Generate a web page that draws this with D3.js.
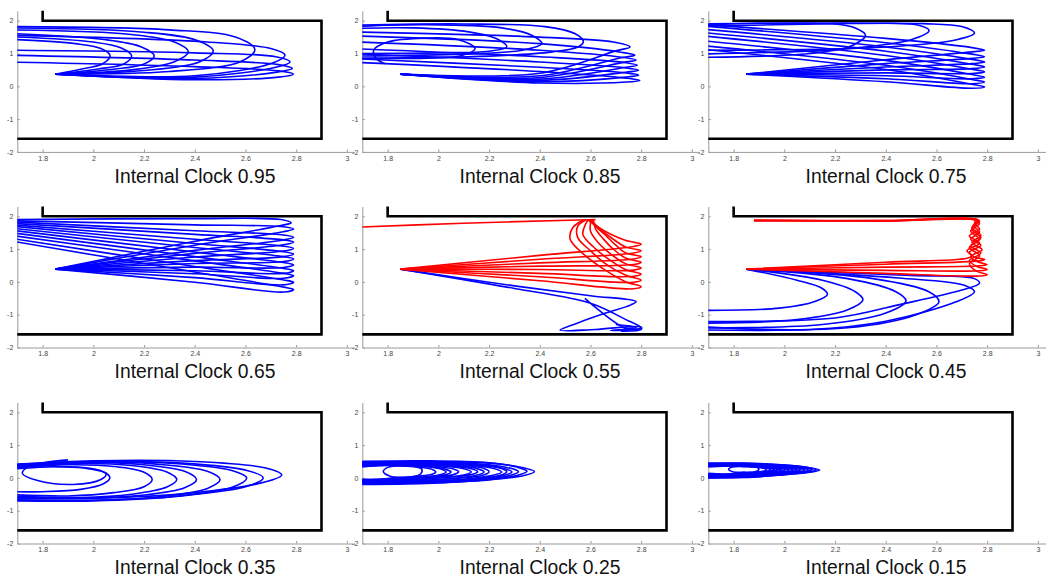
<!DOCTYPE html>
<html>
<head>
<meta charset="utf-8">
<script src="https://cdn.jsdelivr.net/npm/d3@7"></script>
<style>
  body { margin: 0; background: #fff; }
  svg { display: block; }
</style>
</head>
<body>
<svg id="chart" width="1057" height="581"></svg>
<script>

// titles of the nine panels
var clocks = ['0.95', '0.85', '0.75', '0.65', '0.55', '0.45', '0.35', '0.25', '0.15'];
var xTicks = [1.8, 2, 2.2, 2.4, 2.6, 2.8, 3];
var yTicks = [-2, -1, 0, 1, 2];

// the arena wall (same in every panel)
var wall = [[1.8, 2.3], [1.8, 2.0], [2.9, 2.0], [2.9, -1.6], [1.7, -1.6]];

// start points of the fans
var O1 = [1.85, 0.37];
var O2 = [1.85, 0.39];

// trajectories, panel by panel
var blue95 = [
    [O1, [1.97, 0.55], [2.035, 0.68], [2.066, 0.93], [2.03, 1.15], [1.93, 1.3], [1.65, 1.44]],
    [O1, [2.02, 0.53], [2.12, 0.68], [2.151, 0.93], [2.11, 1.17], [2.0, 1.35], [1.65, 1.52]],
    [O1, [2.08, 0.52], [2.2, 0.68], [2.24, 0.93], [2.19, 1.2], [2.05, 1.42], [1.65, 1.62]],
    [O1, [2.15, 0.5], [2.32, 0.75], [2.375, 1.05], [2.32, 1.35], [2.15, 1.58], [1.65, 1.72]],
    [O1, [2.2, 0.48], [2.42, 0.75], [2.473, 1.08], [2.41, 1.4], [2.2, 1.65], [1.65, 1.78]],
    [O1, [2.3, 0.45], [2.58, 0.75], [2.637, 1.12], [2.56, 1.5], [2.3, 1.72], [1.65, 1.82]],
    [O1, [2.4, 0.32], [2.71, 0.72], [2.756, 0.95], [2.7, 1.15], [2.45, 1.35], [1.65, 1.56]],
    [O1, [2.4, 0.28], [2.72, 0.58], [2.776, 0.74], [2.72, 0.9], [2.4, 1.02], [1.65, 1.1]],
    [O1, [2.4, 0.24], [2.73, 0.44], [2.785, 0.54], [2.73, 0.66], [2.4, 0.8], [1.65, 0.95]],
    [O1, [2.4, 0.2], [2.73, 0.28], [2.789, 0.37], [2.73, 0.47], [2.4, 0.6], [1.65, 0.74]]
];

var blue85 = [
    [O1, [2.4, 0.1], [2.74, 0.13], [2.795, 0.18], [2.74, 0.25], [2.4, 0.45], [1.65, 0.74]],
    [O1, [2.4, 0.14], [2.74, 0.28], [2.79, 0.34], [2.74, 0.41], [2.4, 0.58], [1.65, 0.85]],
    [O1, [2.4, 0.18], [2.74, 0.43], [2.79, 0.49], [2.74, 0.56], [2.4, 0.74], [1.65, 1.0]],
    [O1, [2.4, 0.22], [2.74, 0.58], [2.785, 0.64], [2.74, 0.72], [2.4, 0.9], [1.65, 1.15]],
    [O1, [2.4, 0.27], [2.73, 0.73], [2.78, 0.8], [2.73, 0.88], [2.4, 1.1], [1.65, 1.36]],
    [O1, [2.4, 0.32], [2.72, 0.87], [2.775, 0.95], [2.72, 1.04], [2.4, 1.3], [1.65, 1.54]],
    [O1, [2.4, 0.4], [2.7, 1.08], [2.756, 1.2], [2.69, 1.35], [2.4, 1.5], [1.65, 1.66]],
    [[1.65, 0.85], [2.2, 0.92], [2.45, 1.05], [2.55, 1.2], [2.572, 1.36], [2.54, 1.6], [2.42, 1.82], [2.1, 1.9], [1.65, 1.86]],
    [[1.65, 0.92], [2.1, 0.98], [2.33, 1.1], [2.408, 1.3], [2.37, 1.55], [2.25, 1.78], [1.95, 1.88], [1.65, 1.82]],
    [[1.65, 1.0], [2.0, 1.02], [2.2, 1.07], [2.27, 1.2], [2.23, 1.45], [2.12, 1.66], [1.9, 1.78], [1.65, 1.76]],
    [[1.79, 0.69], [1.755, 0.85], [1.745, 1.1], [1.8, 1.35], [1.95, 1.47], [2.08, 1.42], [2.145, 1.15], [2.09, 0.93], [1.95, 0.86], [1.75, 0.85], [1.65, 0.86]]
];

var blue75 = [
    [O1, [2.4, 0.14], [2.74, -0.06], [2.79, -0.02], [2.74, 0.06], [2.4, 0.51], [1.65, 1.15]],
    [O1, [2.4, 0.23], [2.74, 0.08], [2.79, 0.13], [2.74, 0.21], [2.4, 0.64], [1.65, 1.26]],
    [O1, [2.4, 0.32], [2.74, 0.23], [2.79, 0.28], [2.74, 0.36], [2.4, 0.79], [1.65, 1.41]],
    [O1, [2.4, 0.41], [2.74, 0.39], [2.79, 0.44], [2.74, 0.52], [2.4, 0.94], [1.65, 1.56]],
    [O1, [2.4, 0.5], [2.74, 0.54], [2.79, 0.59], [2.74, 0.67], [2.4, 1.07], [1.65, 1.66]],
    [O1, [2.4, 0.59], [2.74, 0.69], [2.79, 0.74], [2.74, 0.82], [2.4, 1.2], [1.65, 1.76]],
    [O1, [2.4, 0.69], [2.74, 0.85], [2.79, 0.9], [2.74, 0.98], [2.4, 1.33], [1.65, 1.86]],
    [O1, [2.4, 0.81], [2.74, 1.05], [2.79, 1.1], [2.74, 1.18], [2.4, 1.46], [1.65, 1.9]],
    [[1.65, 0.88], [2.1, 1.0], [2.26, 1.22], [2.32, 1.56], [2.28, 1.78], [2.2, 1.9], [1.9, 1.92], [1.65, 1.86]],
    [[1.65, 0.98], [2.25, 1.15], [2.5, 1.42], [2.571, 1.7], [2.53, 1.86], [2.4, 1.92], [1.9, 1.92], [1.65, 1.9]],
    [[1.65, 1.1], [2.4, 1.2], [2.68, 1.42], [2.75, 1.62], [2.7, 1.82], [2.55, 1.91], [2.2, 1.91], [1.65, 1.82]]
];

var blue65 = [
    [O2, [2.4, -0.01], [2.75, -0.31], [2.79, -0.23], [2.75, -0.16], [2.4, 0.3], [1.65, 1.28]],
    [O2, [2.4, 0.13], [2.75, -0.09], [2.79, -0.01], [2.75, 0.06], [2.4, 0.47], [1.65, 1.36]],
    [O2, [2.4, 0.25], [2.75, 0.11], [2.79, 0.19], [2.75, 0.26], [2.4, 0.64], [1.65, 1.45]],
    [O2, [2.4, 0.34], [2.75, 0.26], [2.79, 0.34], [2.75, 0.41], [2.4, 0.77], [1.65, 1.53]],
    [O2, [2.4, 0.45], [2.75, 0.44], [2.79, 0.52], [2.75, 0.59], [2.4, 0.91], [1.65, 1.6]],
    [O2, [2.4, 0.56], [2.75, 0.62], [2.79, 0.7], [2.75, 0.77], [2.4, 1.05], [1.65, 1.66]],
    [O2, [2.4, 0.65], [2.75, 0.77], [2.79, 0.85], [2.75, 0.92], [2.4, 1.17], [1.65, 1.72]],
    [O2, [2.4, 0.76], [2.75, 0.94], [2.79, 1.02], [2.75, 1.09], [2.4, 1.3], [1.65, 1.76]],
    [O2, [2.4, 0.87], [2.75, 1.13], [2.79, 1.21], [2.75, 1.28], [2.4, 1.45], [1.65, 1.8]],
    [O2, [2.4, 0.96], [2.75, 1.28], [2.79, 1.36], [2.75, 1.43], [2.4, 1.56], [1.65, 1.84]],
    [O2, [2.4, 1.12], [2.75, 1.53], [2.79, 1.61], [2.75, 1.68], [2.4, 1.74], [1.65, 1.87]],
    [O2, [2.4, 1.24], [2.74, 1.72], [2.78, 1.8], [2.74, 1.9], [2.4, 1.93], [1.65, 1.9]]
];

var red55 = [
    [O2, [2.4, 0.035], [2.77, -0.21], [2.8, -0.14], [2.74, 0.0], [2.66, 0.35], [2.58, 0.8], [2.52, 1.3], [2.53, 1.65], [2.57, 1.88]],
    [O2, [2.4, 0.155], [2.77, -0.01], [2.8, 0.06], [2.74, 0.2], [2.66, 0.55], [2.6, 0.95], [2.55, 1.35], [2.55, 1.7], [2.58, 1.88]],
    [O2, [2.4, 0.26], [2.77, 0.17], [2.8, 0.24], [2.74, 0.37], [2.67, 0.7], [2.61, 1.08], [2.57, 1.45], [2.58, 1.75], [2.59, 1.88]],
    [O2, [2.4, 0.38], [2.77, 0.36], [2.8, 0.43], [2.74, 0.55], [2.68, 0.85], [2.63, 1.2], [2.6, 1.55], [2.6, 1.8], [2.6, 1.89]],
    [O2, [2.4, 0.48], [2.77, 0.53], [2.8, 0.6], [2.74, 0.72], [2.69, 1.0], [2.65, 1.32], [2.62, 1.62], [2.61, 1.89]],
    [O2, [2.4, 0.58], [2.77, 0.7], [2.8, 0.77], [2.74, 0.88], [2.7, 1.12], [2.66, 1.42], [2.62, 1.7], [2.61, 1.89]],
    [O2, [2.4, 0.69], [2.77, 0.88], [2.8, 0.95], [2.74, 1.06], [2.69, 1.3], [2.64, 1.6], [2.6, 1.89]],
    [O2, [2.4, 0.81], [2.77, 1.08], [2.8, 1.15], [2.74, 1.26], [2.68, 1.45], [2.62, 1.72], [2.59, 1.89]],
    [[2.62, 1.9], [2.55, 1.885], [2.1, 1.79], [1.65, 1.66]]
];

var blue55 = [
    [O2, [2.3, -0.12], [2.6, -0.42], [2.78, -0.6], [2.76, -0.7], [2.66, -0.95], [2.55, -1.25], [2.48, -1.47], [2.62, -1.45], [2.8, -1.38], [2.8, -1.45], [2.72, -1.5]],
    [O2, [2.3, -0.2], [2.6, -0.65], [2.74, -1.15], [2.8, -1.4], [2.74, -1.42], [2.578, -0.5]],
    [[2.7, -1.3], [2.78, -1.38], [2.74, -1.44], [2.68, -1.48], [2.76, -1.46], [2.8, -1.42]]
];

var red45 = [
    [O2, [2.4, 0.26], [2.77, 0.18], [2.8, 0.22], [2.76, 0.32], [2.73, 0.55], [2.77, 0.8], [2.73, 1.05], [2.77, 1.3], [2.735, 1.55], [2.77, 1.78], [2.75, 1.89], [2.4, 1.86], [1.88, 1.88]],
    [O2, [2.4, 0.35], [2.77, 0.34], [2.8, 0.38], [2.76, 0.47], [2.73, 0.65], [2.775, 0.88], [2.735, 1.1], [2.775, 1.35], [2.74, 1.6], [2.765, 1.82], [2.76, 1.9], [2.4, 1.87], [1.88, 1.87]],
    [O2, [2.4, 0.45], [2.77, 0.49], [2.8, 0.53], [2.76, 0.62], [2.735, 0.78], [2.78, 0.98], [2.74, 1.2], [2.775, 1.42], [2.74, 1.66], [2.77, 1.85], [2.76, 1.9], [2.4, 1.86], [1.88, 1.88]],
    [O2, [2.4, 0.54], [2.77, 0.64], [2.79, 0.68], [2.75, 0.76], [2.73, 0.9], [2.775, 1.12], [2.735, 1.3], [2.77, 1.52], [2.745, 1.72], [2.765, 1.88], [2.4, 1.87], [1.88, 1.86]],
    [O2, [2.4, 0.6], [2.72, 0.72], [2.74, 0.8], [2.72, 0.95], [2.77, 1.18], [2.73, 1.4], [2.77, 1.6], [2.75, 1.8], [2.76, 1.89]]
];

var blue45 = [
    [O2, [2.05, 0.05], [2.15, -0.2], [2.17, -0.38], [2.12, -0.6], [1.98, -0.8], [1.65, -0.87]],
    [O2, [2.15, 0.05], [2.28, -0.3], [2.31, -0.55], [2.25, -0.85], [2.05, -1.15], [1.65, -1.26]],
    [O2, [2.25, 0.1], [2.44, -0.3], [2.48, -0.58], [2.4, -0.95], [2.15, -1.3], [1.65, -1.4]],
    [O2, [2.35, 0.1], [2.57, -0.3], [2.61, -0.6], [2.52, -1.0], [2.25, -1.4], [1.65, -1.46]],
    [O2, [2.45, 0.12], [2.71, -0.1], [2.75, -0.3], [2.68, -0.6], [2.4, -1.2], [2.1, -1.45], [1.65, -1.36]],
    [O2, [2.5, 0.2], [2.75, 0.1], [2.77, -0.04], [2.7, -0.25], [2.45, -0.7], [2.2, -1.1], [1.65, -1.21]]
];

var blue35 = [
    [[1.65, 0.38], [2.0, 0.52], [2.4, 0.5], [2.68, 0.3], [2.743, 0.09], [2.68, -0.12], [2.4, -0.45], [2.0, -0.62], [1.65, -0.6]],
    [[1.65, 0.3], [2.0, 0.48], [2.35, 0.45], [2.61, 0.22], [2.67, 0.0], [2.61, -0.25], [2.35, -0.55], [2.0, -0.68], [1.65, -0.66]],
    [[1.65, 0.33], [2.0, 0.5], [2.3, 0.45], [2.55, 0.22], [2.605, 0.0], [2.55, -0.28], [2.3, -0.58], [2.0, -0.7], [1.65, -0.7]],
    [[1.65, 0.4], [2.0, 0.5], [2.25, 0.42], [2.45, 0.2], [2.5, -0.05], [2.45, -0.32], [2.25, -0.58], [2.0, -0.68], [1.65, -0.67]],
    [[1.65, 0.36], [1.95, 0.48], [2.2, 0.4], [2.36, 0.2], [2.407, -0.05], [2.36, -0.3], [2.2, -0.52], [1.95, -0.62], [1.65, -0.6]],
    [[1.65, 0.3], [1.95, 0.44], [2.15, 0.38], [2.29, 0.18], [2.329, -0.05], [2.29, -0.28], [2.15, -0.5], [1.95, -0.6], [1.65, -0.55]],
    [[1.65, 0.28], [1.9, 0.4], [2.08, 0.35], [2.2, 0.17], [2.232, -0.05], [2.2, -0.27], [2.08, -0.45], [1.9, -0.55], [1.65, -0.5]],
    [[1.65, 0.25], [1.85, 0.34], [1.98, 0.3], [2.05, 0.15], [2.065, 0.0], [2.04, -0.18], [1.95, -0.35], [1.8, -0.42], [1.65, -0.42]],
    [[1.9, 0.55], [1.8, 0.46], [1.74, 0.33], [1.72, 0.14], [1.78, -0.08], [1.92, -0.2], [2.03, -0.05], [2.05, 0.12], [1.98, 0.28], [1.85, 0.35], [1.65, 0.38]]
];

var blue25 = [
    [[1.65, 0.45], [1.95, 0.5], [2.2, 0.45], [2.33, 0.32], [2.379, 0.19], [2.33, 0.06], [2.2, -0.06], [1.95, -0.15], [1.65, -0.16]],
    [[1.65, 0.5], [1.95, 0.52], [2.2, 0.46], [2.31, 0.33], [2.35, 0.2], [2.31, 0.07], [2.2, -0.05], [1.95, -0.17], [1.65, -0.2]],
    [[1.65, 0.4], [1.95, 0.48], [2.15, 0.43], [2.27, 0.32], [2.316, 0.19], [2.27, 0.05], [2.15, -0.06], [1.95, -0.14], [1.65, -0.18]],
    [[1.65, 0.48], [1.9, 0.49], [2.12, 0.42], [2.25, 0.3], [2.29, 0.18], [2.25, 0.06], [2.12, -0.05], [1.9, -0.12], [1.65, -0.12]],
    [[1.65, 0.44], [1.92, 0.47], [2.14, 0.42], [2.24, 0.31], [2.27, 0.19], [2.24, 0.07], [2.14, -0.03], [1.92, -0.13], [1.65, -0.15]],
    [[1.65, 0.36], [1.9, 0.46], [2.1, 0.4], [2.21, 0.3], [2.25, 0.18], [2.21, 0.07], [2.1, -0.04], [1.9, -0.12], [1.65, -0.14]],
    [[1.65, 0.38], [1.9, 0.45], [2.08, 0.39], [2.175, 0.3], [2.2, 0.19], [2.175, 0.08], [2.08, -0.01], [1.9, -0.09], [1.65, -0.08]],
    [[1.65, 0.42], [1.88, 0.45], [2.05, 0.38], [2.15, 0.29], [2.18, 0.18], [2.15, 0.08], [2.05, -0.02], [1.88, -0.1], [1.65, -0.1]],
    [[1.65, 0.46], [1.86, 0.43], [2.02, 0.37], [2.13, 0.28], [2.155, 0.19], [2.13, 0.1], [2.02, 0.01], [1.86, -0.07], [1.65, -0.12]],
    [[1.65, 0.33], [1.85, 0.42], [2.0, 0.37], [2.1, 0.28], [2.13, 0.18], [2.1, 0.09], [2.0, 0.0], [1.85, -0.08], [1.65, -0.07]],
    [[1.65, 0.35], [1.84, 0.41], [1.98, 0.36], [2.06, 0.27], [2.08, 0.185], [2.06, 0.1], [1.98, 0.02], [1.84, -0.05], [1.65, -0.03]],
    [[1.65, 0.43], [1.83, 0.4], [1.97, 0.34], [2.03, 0.26], [2.05, 0.18], [2.03, 0.1], [1.97, 0.04], [1.83, -0.06], [1.65, -0.09]],
    [[1.65, 0.4], [1.82, 0.42], [1.95, 0.35], [2.01, 0.27], [2.03, 0.18], [2.01, 0.1], [1.95, 0.03], [1.82, -0.04], [1.65, -0.05]],
    [[1.65, 0.3], [1.8, 0.38], [1.92, 0.33], [1.975, 0.26], [1.99, 0.18], [1.975, 0.11], [1.92, 0.05], [1.8, -0.02], [1.65, -0.1]],
    [[1.855, 0.37], [1.91, 0.34], [1.935, 0.26], [1.93, 0.12], [1.9, 0.04], [1.855, 0.02], [1.81, 0.05], [1.783, 0.19], [1.8, 0.32], [1.855, 0.37]]
];

var blue15 = [
    [[1.65, 0.38], [1.85, 0.43], [2.0, 0.39], [2.1, 0.31], [2.139, 0.24], [2.1, 0.17], [2.0, 0.1], [1.85, 0.03], [1.65, 0.05]],
    [[1.65, 0.45], [1.84, 0.45], [1.99, 0.4], [2.09, 0.32], [2.125, 0.245], [2.09, 0.17], [1.99, 0.09], [1.84, 0.01], [1.65, 0.0]],
    [[1.65, 0.43], [1.85, 0.44], [1.98, 0.39], [2.075, 0.31], [2.11, 0.25], [2.075, 0.18], [1.98, 0.1], [1.85, 0.04], [1.65, 0.09]],
    [[1.65, 0.36], [1.83, 0.43], [1.97, 0.38], [2.06, 0.31], [2.095, 0.24], [2.06, 0.17], [1.97, 0.11], [1.83, 0.05], [1.65, 0.06]],
    [[1.65, 0.35], [1.82, 0.42], [1.96, 0.38], [2.045, 0.31], [2.08, 0.24], [2.045, 0.17], [1.96, 0.1], [1.82, 0.02], [1.65, 0.01]],
    [[1.65, 0.42], [1.81, 0.42], [1.95, 0.38], [2.03, 0.31], [2.065, 0.245], [2.03, 0.18], [1.95, 0.11], [1.81, 0.03], [1.65, 0.1]],
    [[1.65, 0.41], [1.82, 0.41], [1.94, 0.37], [2.02, 0.3], [2.05, 0.24], [2.02, 0.18], [1.94, 0.11], [1.82, 0.05], [1.65, 0.12]],
    [[1.65, 0.34], [1.8, 0.41], [1.93, 0.37], [2.005, 0.3], [2.035, 0.24], [2.005, 0.18], [1.93, 0.12], [1.8, 0.04], [1.65, 0.02]],
    [[1.65, 0.37], [1.8, 0.4], [1.92, 0.36], [1.99, 0.3], [2.02, 0.24], [1.99, 0.18], [1.92, 0.12], [1.8, 0.06], [1.65, 0.03]],
    [[1.65, 0.4], [1.79, 0.4], [1.91, 0.36], [1.98, 0.3], [2.005, 0.245], [1.98, 0.19], [1.91, 0.13], [1.79, 0.08], [1.65, 0.13]],
    [[1.65, 0.44], [1.8, 0.39], [1.9, 0.35], [1.965, 0.29], [1.99, 0.24], [1.965, 0.19], [1.9, 0.13], [1.8, 0.07], [1.65, 0.07]],
    [[1.65, 0.44], [1.78, 0.39], [1.89, 0.35], [1.955, 0.295], [1.975, 0.25], [1.955, 0.2], [1.89, 0.14], [1.78, 0.1], [1.65, 0.08]],
    [[1.65, 0.33], [1.78, 0.38], [1.88, 0.34], [1.94, 0.29], [1.96, 0.25], [1.94, 0.2], [1.88, 0.14], [1.78, 0.09], [1.65, 0.14]],
    [[1.65, 0.31], [1.76, 0.36], [1.87, 0.345], [1.93, 0.3], [1.945, 0.25], [1.93, 0.2], [1.87, 0.15], [1.76, 0.12], [1.65, 0.16]],
    [[1.65, 0.39], [1.77, 0.37], [1.86, 0.35], [1.915, 0.3], [1.93, 0.25], [1.915, 0.2], [1.86, 0.16], [1.77, 0.11], [1.65, 0.04]],
    [[1.84, 0.345], [1.885, 0.33], [1.9, 0.26], [1.885, 0.19], [1.84, 0.175], [1.795, 0.19], [1.78, 0.26], [1.795, 0.33], [1.84, 0.345]]
];

var blueSets = [blue95, blue85, blue75, blue65, blue55, blue45, blue35, blue25, blue15];
var redSets = [[], [], [], [], red55, red45, [], [], []];

// layout of the grid (pixel position of x=1.7 and y=2 per column/row)
var colX = [17.3, 362.3, 708.3];
var rowY = [20.7, 216.3, 412.3];
var unitX = 253.5, unitY = 32.8;

var svg = d3.select('#chart');

var x = d3.scaleLinear().domain([1.7, 3.03]).range([0, 1.33 * unitX]);
var y = d3.scaleLinear().domain([-2, 2.3]).range([4.3 * unitY, 0]);

var curve = d3.line()
    .x(function (d) { return x(d[0]); })
    .y(function (d) { return y(d[1]); })
    .curve(d3.curveCatmullRom.alpha(0.5));

var straight = d3.line()
    .x(function (d) { return x(d[0]); })
    .y(function (d) { return y(d[1]); });

svg.append('defs').append('clipPath').attr('id', 'plotclip')
    .append('rect')
    .attr('x', 0).attr('y', 0)
    .attr('width', x(3.03)).attr('height', y(-2));

clocks.forEach(function (c, i) {
    var col = i % 3, row = Math.floor(i / 3);
    var g = svg.append('g')
        .attr('transform', 'translate(' + colX[col] + ',' + (rowY[row] - 0.3 * unitY) + ')');

    // axes
    var xa = g.append('g')
        .attr('transform', 'translate(0,' + y(-2) + ')')
        .call(d3.axisBottom(x).tickValues(xTicks).tickSize(-2.5).tickSizeOuter(0).tickPadding(4)
            .tickFormat(function (d) { return String(d); }));
    var ya = g.append('g')
        .call(d3.axisLeft(y).tickValues(yTicks).tickSize(-2.5).tickSizeOuter(0).tickPadding(4)
            .tickFormat(function (d) { return String(d); }));
    [xa, ya].forEach(function (a) {
        a.selectAll('path, line').attr('stroke', '#9a9a9a');
        a.selectAll('text').attr('fill', '#444').style('font-size', '7px')
            .style('font-family', '"Liberation Sans", Arial, sans-serif');
    });

    // wall
    g.append('path')
        .attr('d', straight(wall))
        .attr('fill', 'none')
        .attr('stroke', '#000')
        .attr('stroke-width', 2.6)
        .attr('stroke-linejoin', 'miter');

    var plot = g.append('g').attr('clip-path', 'url(#plotclip)');

    plot.selectAll('path.blue')
        .data(blueSets[i])
        .enter().append('path')
        .attr('class', 'blue')
        .attr('d', curve)
        .attr('fill', 'none')
        .attr('stroke', '#0000ff')
        .attr('stroke-width', 1.6)
        .attr('stroke-linejoin', 'round');

    plot.selectAll('path.red')
        .data(redSets[i])
        .enter().append('path')
        .attr('class', 'red')
        .attr('d', curve)
        .attr('fill', 'none')
        .attr('stroke', '#ff0000')
        .attr('stroke-width', 1.6)
        .attr('stroke-linejoin', 'round');

    // title under each panel
    g.append('text')
        .attr('x', 177.7)
        .attr('y', 0.3 * unitY + 162)
        .attr('text-anchor', 'middle')
        .style('font-family', '"Liberation Sans", Arial, sans-serif')
        .style('font-size', '19.3px')
        .attr('fill', '#111')
        .text('Internal Clock ' + c);
});

</script>
</body>
</html>
